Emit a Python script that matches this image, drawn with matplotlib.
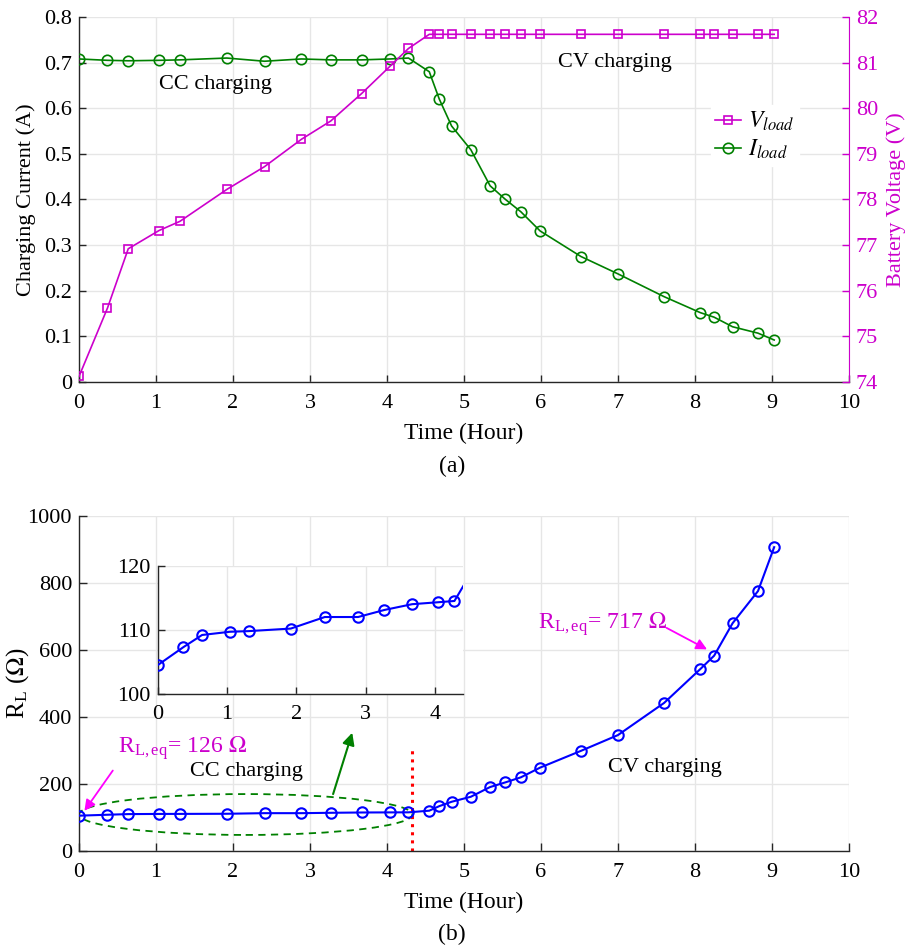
import numpy as np
import matplotlib
matplotlib.use("Agg")
import matplotlib.pyplot as plt
from matplotlib.patches import Ellipse

plt.rcParams["font.family"] = ["Liberation Serif", "DejaVu Serif"]
plt.rcParams["mathtext.fontset"] = "stix"
plt.rcParams["font.size"] = 16

# time stamps of the charging test (hours)
hours = [0.0, 0.37, 0.64, 1.04, 1.31, 1.92, 2.41, 2.89, 3.27, 3.67, 4.04, 4.28,
         4.55, 4.68, 4.84, 5.09, 5.34, 5.54, 5.74, 5.99, 6.52, 7.0, 7.6, 8.07,
         8.25, 8.49, 8.82, 9.03]

# charging current (A)
i_load = [0.708, 0.705, 0.704, 0.705, 0.706, 0.710, 0.703, 0.708, 0.706, 0.706,
          0.708, 0.710, 0.680, 0.620, 0.561, 0.509, 0.430, 0.400, 0.373, 0.331,
          0.275, 0.237, 0.187, 0.152, 0.142, 0.121, 0.107, 0.092]

# battery voltage (V)
v_load = [74.12, 75.62, 76.92, 77.32, 77.52, 78.22, 78.72, 79.32, 79.72, 80.32,
          80.92, 81.31, 81.62, 81.62, 81.62, 81.62, 81.62, 81.62, 81.62, 81.62,
          81.62, 81.62, 81.62, 81.62, 81.62, 81.62, 81.62, 81.62]

# equivalent load resistance (ohm)
r_load = [104.5, 107.3, 109.2, 109.7, 109.8, 110.2, 112.0, 112.0, 113.1, 114.0,
          114.3, 114.5, 119.4, 133, 146, 161, 190, 204, 219, 248,
          298, 345, 441, 542, 582, 679, 775, 906]

x_ticks = list(range(0, 11))
i_ticks = [0, 0.1, 0.2, 0.3, 0.4, 0.5, 0.6, 0.7, 0.8]
i_ticklabels = ["0", "0.1", "0.2", "0.3", "0.4", "0.5", "0.6", "0.7", "0.8"]
v_ticks = list(range(74, 83))
r_ticks = [0, 200, 400, 600, 800, 1000]
inset_x_ticks = [0, 1, 2, 3, 4]
inset_r_ticks = [100, 110, 120]

MAG = "#cc00cc"
GRN = "#008000"
BLU = "#0000ff"
GRID = "#e6e6e6"


def style_axes(ax, tick_len=5, xpad=9):
    for side in ["top", "right"]:
        ax.spines[side].set_visible(False)
    for side in ["left", "bottom"]:
        ax.spines[side].set_color("#262626")
        ax.spines[side].set_linewidth(1.0)
    ax.tick_params(direction="in", length=tick_len, width=1.0, colors="#262626",
                   labelcolor="black", top=False, right=False, pad=5)
    ax.tick_params(axis="x", pad=xpad)
    ax.grid(True, color=GRID, linewidth=1.0)
    ax.set_axisbelow(True)


fig = plt.figure(figsize=(9.10, 9.49), dpi=100)

# ---- (a) current and voltage ----
ax1 = fig.add_axes([0.0868, 0.5975, 0.846, 0.3846])
style_axes(ax1)
l_i, = ax1.plot(hours, i_load, color=GRN, lw=1.2, marker="o", ms=7.5,
                mfc="none", mew=1.2, label=r"$I_{load}$", zorder=3)
ax1.set_xlim(0, 10)
ax1.set_ylim(0, 0.8)
ax1.set_xticks(x_ticks)
ax1.set_yticks(i_ticks)
ax1.set_yticklabels(i_ticklabels)
ax1.set_xlabel("Time (Hour)", labelpad=7, fontsize=17)
ax1.set_ylabel("Charging Current (A)", labelpad=6)

ax2 = ax1.twinx()
for side in ["top", "left", "bottom"]:
    ax2.spines[side].set_visible(False)
ax2.spines["right"].set_color(MAG)
ax2.tick_params(direction="in", length=5, width=1.0, colors=MAG, pad=5)
l_v, = ax2.plot(hours, v_load, color=MAG, lw=1.2, marker="s", ms=6,
                mfc="none", mew=1.2, label=r"$V_{load}$", zorder=3)
ax2.set_ylim(74, 82)
ax2.set_yticks(v_ticks)
ax2.set_ylabel("Battery Voltage (V)", color=MAG, labelpad=6)

ax1.text(1.04, 0.651, "CC charging", ha="left", va="center")
ax1.text(6.22, 0.70, "CV charging", ha="left", va="center")

leg = ax2.legend(handles=[l_v, l_i], loc="upper left",
                 bbox_to_anchor=(0.805, 0.79), frameon=True, fancybox=False,
                 edgecolor="white", facecolor="white", framealpha=1,
                 handlelength=1.1, handletextpad=0.3, borderpad=0.2,
                 labelspacing=0.2, fontsize=17)

fig.text(0.497, 0.508, "(a)", ha="center", va="center", fontsize=17)

# ---- (b) load resistance ----
ax3 = fig.add_axes([0.0868, 0.1036, 0.846, 0.353])
style_axes(ax3, tick_len=6)
ax3.plot(hours, r_load, color=BLU, lw=1.5, marker="o", ms=7.5, mfc="none",
         mew=1.5, zorder=3)
ax3.set_xlim(0, 10)
ax3.set_ylim(0, 1000)
ax3.set_xticks(x_ticks)
ax3.set_yticks(r_ticks)
ax3.set_xlabel("Time (Hour)", labelpad=7, fontsize=17)
ax3.set_ylabel(r"R$_\mathregular{L}$ ($\Omega$)", fontsize=18)
ax3.yaxis.set_label_coords(-0.062, 0.5)

ax3.add_patch(Ellipse((2.165, 108), 4.33, 122, fill=False, edgecolor=GRN,
                      linestyle=(0, (4, 3)), lw=1.3, zorder=2))
ax3.plot([4.33, 4.33], [0, 306], color="red", linestyle=":", lw=2.2, zorder=2)

ax3.text(1.44, 236, "CC charging", ha="left", va="center")
ax3.text(6.87, 247, "CV charging", ha="left", va="center")
ax3.text(0.51, 292, r"R$_\mathregular{L,eq}$= 126 $\Omega$", color=MAG,
         ha="left", va="baseline", fontsize=17)
ax3.text(5.96, 662, r"R$_\mathregular{L,eq}$= 717 $\Omega$", color=MAG,
         ha="left", va="baseline", fontsize=17)

arrow_m = dict(arrowstyle="-|>", color="#ff00ff", lw=1.3, mutation_scale=16)
ax3.annotate("", xy=(0.05, 112), xytext=(0.46, 246), arrowprops=arrow_m)
ax3.annotate("", xy=(8.19, 597), xytext=(7.6, 669), arrowprops=arrow_m)
ax3.annotate("", xy=(3.56, 360), xytext=(3.29, 161),
             arrowprops=dict(arrowstyle="-|>", color=GRN, lw=1.5,
                             mutation_scale=18))

fig.text(0.497, 0.015, "(b)", ha="center", va="center", fontsize=17)

# zoomed view of the CC stage
axin = fig.add_axes([0.1733, 0.2687, 0.3352, 0.1352])
style_axes(axin, xpad=8)
axin.set_facecolor("white")
axin.plot(hours, r_load, color=BLU, lw=1.5, marker="o", ms=7.5, mfc="none",
          mew=1.5, zorder=3)
axin.set_xlim(0, 4.4)
axin.set_ylim(100, 120)
axin.set_xticks(inset_x_ticks)
axin.set_yticks(inset_r_ticks)

fig.savefig("out.png", dpi=100)
